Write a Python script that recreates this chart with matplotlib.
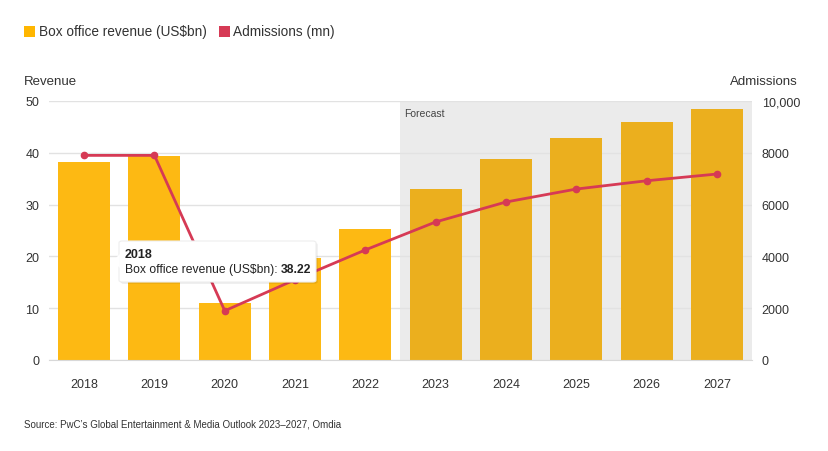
import matplotlib
matplotlib.use("Agg")
import matplotlib.pyplot as plt
from matplotlib.patches import FancyBboxPatch, Polygon, Rectangle
import numpy as np

plt.rcParams["font.family"] = ["Liberation Sans", "DejaVu Sans"]

years = ["2018", "2019", "2020", "2021", "2022", "2023", "2024", "2025", "2026", "2027"]
revenue = [38.22, 39.4, 11.0, 19.6, 25.3, 33.0, 38.8, 42.9, 46.0, 48.5]
admissions = [7900, 7900, 1900, 3100, 4250, 5330, 6100, 6600, 6920, 7180]
forecast_start = 5  # index of first forecast year

YELLOW = "#fdb913"
YELLOW_FC = "#ebaf1e"
RED = "#d63a55"
GRID = "#e2e2e2"
TEXT = "#333333"
SHADE = "#ebebeb"

W, H = 829, 452
fig = plt.figure(figsize=(W / 100, H / 100), dpi=100)
ax = fig.add_axes([49 / W, 1 - 361 / H, (752 - 49) / W, (361 - 102) / H])
ax2 = ax.twinx()

x = np.arange(len(years))
colors = [YELLOW if i < forecast_start else YELLOW_FC for i in x]

ax.axvspan(forecast_start - 0.5, len(years) - 0.5, color=SHADE, zorder=0, lw=0)
ax.bar(x, revenue, width=0.74, color=colors, zorder=2, edgecolor="none")
ax.set_xlim(-0.5, len(years) - 0.5)
ax.set_ylim(0, 50)
ax.set_yticks([0, 10, 20, 30, 40, 50])
ax.set_xticks(x)
ax.set_xticklabels(years)
ax.yaxis.grid(True, color=GRID, lw=1, zorder=1)
ax.set_axisbelow(True)
ax.tick_params(axis="both", length=0, labelsize=9, colors=TEXT)
ax.tick_params(axis="x", pad=13)
ax.tick_params(axis="y", pad=7)
for s in ["top", "left", "right"]:
    ax.spines[s].set_visible(False)
ax.spines["bottom"].set_color("#d8d8d8")

ax2.plot(x, admissions, color=RED, lw=2, marker="o", ms=4.5, zorder=5)
ax2.set_ylim(0, 10000)
ax2.set_yticks([0, 2000, 4000, 6000, 8000, 10000])
ax2.set_yticklabels(["0", "2000", "4000", "6000", "8000", "10,000"])
ax2.tick_params(axis="y", length=0, labelsize=9, colors=TEXT, pad=7)
for s in ["top", "left", "right", "bottom"]:
    ax2.spines[s].set_visible(False)

ax.text(forecast_start - 0.45, 48.6, "Forecast", fontsize=7.5, color="#444444", va="top", zorder=3)

# axis titles
fig.text(24 / W, 1 - 82 / H, "Revenue", fontsize=9.5, color=TEXT, va="center")
fig.text(798 / W, 1 - 82 / H, "Admissions", fontsize=9.5, color=TEXT, va="center", ha="right")

# legend
fig.patches.append(Rectangle((24 / W, 1 - 38 / H), 11 / W, 11 / H, transform=fig.transFigure,
                             color="#ffb600", lw=0))
fig.text(39 / W, 1 - 32 / H, "Box office revenue (US$bn)", fontsize=9.8, color=TEXT, va="center")
fig.patches.append(Rectangle((219 / W, 1 - 38 / H), 11 / W, 11 / H, transform=fig.transFigure,
                             color=RED, lw=0))
fig.text(233 / W, 1 - 32 / H, "Admissions (mn)", fontsize=9.8, color=TEXT, va="center")

# tooltip
bx0, by0, bx1, by1 = 119, 242, 316, 283
shadow = FancyBboxPatch((bx0 / W + 0.002, 1 - by1 / H - 0.004), (bx1 - bx0) / W, (by1 - by0) / H,
                        boxstyle="round,pad=0,rounding_size=0.004", transform=fig.transFigure,
                        fc="#000000", alpha=0.08, lw=0, zorder=9)
box = FancyBboxPatch((bx0 / W, 1 - by1 / H), (bx1 - bx0) / W, (by1 - by0) / H,
                     boxstyle="round,pad=0,rounding_size=0.004", transform=fig.transFigure,
                     fc="white", ec="#eeeeee", lw=0.8, zorder=10)
tip = Polygon([(bx0 / W + 0.001, 1 - 255 / H), (113 / W, 1 - 262 / H), (bx0 / W + 0.001, 1 - 269 / H)],
              closed=True, transform=fig.transFigure, fc="white", ec="none", zorder=11)
fig.patches.extend([shadow, box, tip])
fig.text(125 / W, 1 - 255 / H, "2018", fontsize=9, fontweight="bold", color="#222222",
         va="center", zorder=12)
t = fig.text(125 / W, 1 - 270 / H, "Box office revenue (US$bn):", fontsize=8.7, color="#222222",
             va="center", zorder=12)
fig.canvas.draw()
bb = t.get_window_extent()
fig.text(bb.x1 / W + 3 / W, 1 - 270 / H, "38.22", fontsize=8.7, fontweight="bold", color="#222222",
         va="center", zorder=12)

fig.text(24 / W, 1 - 425 / H, "Source: PwC\u2019s Global Entertainment & Media Outlook 2023\u20132027, Omdia",
         fontsize=7, color=TEXT, va="center")

fig.savefig("out.png", dpi=100, facecolor="white")
